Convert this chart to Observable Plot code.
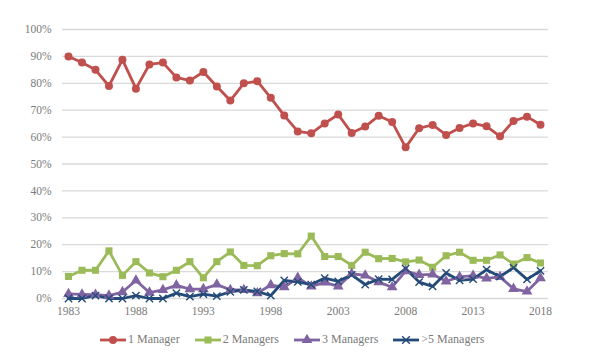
<!DOCTYPE html>
<html>
<head>
<meta charset="utf-8">
<script src="https://cdn.jsdelivr.net/npm/d3@7"></script>
<script src="https://cdn.jsdelivr.net/npm/@observablehq/plot@0.6"></script>
<style>
  html, body { margin: 0; padding: 0; background: #fff; }
  #chart { width: 602px; }
  .legend { display: flex; justify-content: flex-start; gap: 15px; margin-left: 100px; margin-top: 10px;
            font-family: "Liberation Serif", "DejaVu Serif", serif; font-size: 12px; color: #7a7a7a; }
  .legend .item { display: flex; align-items: center; }
  .legend svg { margin-right: 1px; }
</style>
</head>
<body>
<div id="chart"></div>
<script>
const years = d3.range(1983, 2019);
const seriesNames = ["1 Manager", "2 Managers", "3 Managers", ">5 Managers"];
const colors = ["#C0504D", "#9BBB59", "#8064A2", "#234A78"];
const symbols = ["circle", "square", "triangle", "times"];
const yTicks = [0, 0.1, 0.2, 0.3, 0.4, 0.5, 0.6, 0.7, 0.8, 0.9, 1.0];
const xTicks = [1983, 1988, 1993, 1998, 2003, 2008, 2013, 2018];

const oneManager = [90, 87.7, 85, 79, 88.8, 78, 87, 87.7, 82.2, 81, 84.2, 78.8, 73.6, 80, 80.8, 74.6, 68, 62.1,
  61.4, 65.1, 68.4, 61.5, 63.9, 67.9, 65.6, 56.2, 63.3, 64.5, 60.8, 63.4, 65.1, 64, 60.3, 66, 67.6, 64.6];
const twoManagers = [8.2, 10.5, 10.5, 17.7, 8.6, 13.7, 9.5, 8.1, 10.5, 13.7, 7.7, 13.7, 17.3, 12.3, 12.2, 15.9, 16.7, 16.6,
  23.2, 15.6, 15.6, 12.3, 17.2, 14.8, 14.9, 13.6, 14.3, 11.6, 15.9, 17.2, 14.2, 14.2, 16.2, 12.8, 15.2, 13.2];
const threeManagers = [1.7, 1.5, 1.4, 1.1, 2.4, 6.7, 2.2, 3.2, 4.9, 3.5, 3.5, 5.2, 3.2, 3.2, 2, 5, 4.2, 7.7,
  4.5, 6, 4.5, 9.2, 8.6, 6.1, 4.2, 10.2, 8.8, 9, 6.4, 8, 8.5, 7.5, 8, 3.6, 2.6, 7.6];
const fivePlusManagers = [0, 0, 1.1, 0, 0, 1.1, 0, 0, 2, 0.7, 1.6, 0.9, 2.5, 3.2, 2.6, 1.1, 6.7, 6.2,
  5.2, 7.6, 6.4, 8.8, 5.2, 7.2, 7.1, 11.1, 6.1, 4.5, 9.5, 6.7, 7.2, 10.7, 8.1, 11.5, 7.1, 10.3];

const allSeries = [oneManager, twoManagers, threeManagers, fivePlusManagers];
const data = [];
allSeries.forEach((vals, i) => {
  vals.forEach((v, j) => data.push({ year: years[j], value: v / 100, series: seriesNames[i] }));
});

const font = "'Liberation Serif', 'DejaVu Serif', serif";

const chart = Plot.plot({
  width: 602,
  height: 322,
  marginTop: 29,
  marginBottom: 24,
  marginLeft: 62,
  marginRight: 54,
  style: { fontFamily: font, fontSize: "11.5px", color: "#7a7a7a", background: "#fff" },
  x: { domain: [1983, 2018], insetLeft: 6, insetRight: 8, label: null },
  y: { domain: [0, 1], label: null },
  color: { domain: seriesNames, range: colors },
  symbol: { domain: seriesNames, range: symbols },
  marks: [
    Plot.ruleY(yTicks, { stroke: "#d9d9d9", strokeWidth: 1.3, strokeOpacity: 1 }),
    Plot.axisY({ ticks: yTicks, tickSize: 0, tickPadding: 11, tickFormat: d => Math.round(d * 100) + "%", label: null }),
    Plot.axisX({ ticks: xTicks, tickSize: 0, tickPadding: 8, tickFormat: d => String(d), label: null }),
    Plot.line(data, { x: "year", y: "value", z: "series", stroke: "series", strokeWidth: 2.8 }),
    Plot.dot(data.filter(d => d.series !== ">5 Managers"), { x: "year", y: "value", fill: "series", symbol: "series", r: 4, stroke: "none" }),
    Plot.dot(data.filter(d => d.series === ">5 Managers"), { x: "year", y: "value", stroke: "series", symbol: "series", r: 3.4, strokeWidth: 1.4 })
  ]
});
document.getElementById("chart").appendChild(chart);

// Legend
const legend = document.createElement("div");
legend.className = "legend";
seriesNames.forEach((name, i) => {
  const item = document.createElement("div");
  item.className = "item";
  const sym = d3.symbol().type([d3.symbolCircle, d3.symbolSquare, d3.symbolTriangle, d3.symbolTimes][i]).size(i === 3 ? 40 : 50)();
  const mk = i === 3
    ? `<path d="${sym}" transform="translate(13,6)" fill="none" stroke="${colors[i]}" stroke-width="1.4"/>`
    : `<path d="${sym}" transform="translate(13,6)" fill="${colors[i]}"/>`;
  item.innerHTML = `<svg width="27" height="12"><line x1="0" x2="26" y1="6" y2="6" stroke="${colors[i]}" stroke-width="2.8"/>${mk}</svg><span>${name}</span>`;
  legend.appendChild(item);
});
document.getElementById("chart").appendChild(legend);
</script>
</body>
</html>
